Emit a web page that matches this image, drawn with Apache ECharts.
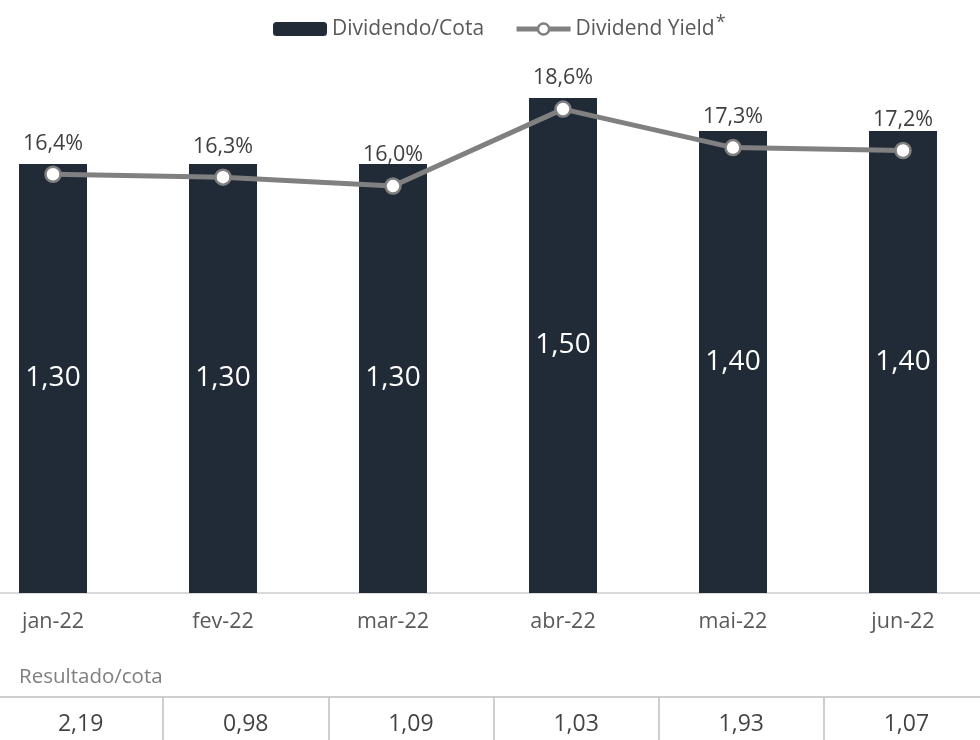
<!DOCTYPE html>
<html>
<head>
<meta charset="utf-8">
<script src="https://cdn.jsdelivr.net/npm/echarts@6/dist/echarts.min.js"></script>
<style>
html,body{margin:0;padding:0;background:#fff;}
#chart{width:980px;height:740px;}
</style>
</head>
<body>
<div id="chart"></div>
<script>
const categories = ['jan-22','fev-22','mar-22','abr-22','mai-22','jun-22'];
const dividendoCota = [1.30, 1.30, 1.30, 1.50, 1.40, 1.40];
const dividendYield = [16.4, 16.3, 16.0, 18.6, 17.3, 17.2];
const resultadoCota = [2.19, 0.98, 1.09, 1.03, 1.93, 1.07];

const FONT = 'Open Sans';
const fmt = (v, d) => v.toFixed(d).replace('.', ',');

const chart = echarts.init(document.getElementById('chart'));
chart.setOption({
  animation: false,
  backgroundColor: '#ffffff',
  textStyle: { fontFamily: FONT },
  title: {
    text: 'Resultado/cota',
    left: 14, top: 662,
    textStyle: { fontFamily: FONT, fontSize: 20.5, fontWeight: 'normal', color: '#7f7f7f' }
  },
  legend: {
    left: 268, top: 9,
    itemGap: 30,
    itemWidth: 54, itemHeight: 14,
    textStyle: {
      fontFamily: FONT, fontSize: 21, color: '#595959',
      rich: {
        a: { fontFamily: FONT, fontSize: 21, color: '#595959' },
        s: { fontFamily: FONT, fontSize: 18, color: '#595959', padding: [0, 0, 12, 1] }
      }
    },
    formatter: name => name === 'Dividend Yield' ? '{a|Dividend Yield}{s|*}' : name,
    data: [
      { name: 'Dividendo/Cota' },
      { name: 'Dividend Yield', lineStyle: { width: 5, color: '#808080' },
        itemStyle: { color: '#ffffff', borderColor: '#808080', borderWidth: 2.5 } }
    ]
  },
  grid: [
    { left: -32, right: -8, top: 65, height: 528, outerBoundsMode: 'none' },
    { left: -2, right: -9, top: 697, height: 50, outerBoundsMode: 'none' }
  ],
  xAxis: [
    {
      type: 'category', gridIndex: 0, data: categories,
      axisLine: { show: true, lineStyle: { color: '#d9d9d9', width: 2 } },
      axisTick: { show: false },
      axisLabel: { fontFamily: FONT, fontSize: 21.5, color: '#595959', margin: 18 }
    },
    {
      type: 'category', gridIndex: 1, data: categories, position: 'top',
      axisLine: { show: true, onZero: false, lineStyle: { color: '#bfbfbf', width: 1.5 } },
      axisTick: { show: false },
      axisLabel: { show: false },
      splitLine: { show: true, lineStyle: { color: '#bfbfbf', width: 1.5 } }
    }
  ],
  yAxis: [
    { type: 'value', gridIndex: 0, min: 0, max: 1.6, show: false, splitLine: { show: false } },
    { type: 'value', gridIndex: 0, min: 2.25, max: 20.09, show: false, splitLine: { show: false } },
    { type: 'value', gridIndex: 1, min: 0, max: 1, show: false, splitLine: { show: false } }
  ],
  series: [
    {
      name: 'Dividendo/Cota', type: 'bar',
      xAxisIndex: 0, yAxisIndex: 0,
      data: dividendoCota,
      barWidth: 68,
      itemStyle: { color: '#212b37' },
      label: {
        show: true, position: 'inside',
        fontFamily: FONT, fontSize: 28, color: '#ffffff',
        formatter: p => fmt(p.value, 2)
      },
      z: 2
    },
    {
      name: 'Dividend Yield', type: 'line',
      xAxisIndex: 0, yAxisIndex: 1,
      data: dividendYield,
      lineStyle: { color: '#808080', width: 5 },
      itemStyle: { color: '#ffffff', borderColor: '#808080', borderWidth: 2.5 },
      symbol: 'circle', symbolSize: 15,
      label: {
        show: true, position: 'top', distance: 11,
        fontFamily: FONT, fontSize: 21.5, color: '#404040',
        formatter: p => fmt(p.value, 1) + '%'
      },
      z: 5
    },
    {
      name: 'Resultado', type: 'scatter',
      xAxisIndex: 1, yAxisIndex: 2,
      data: resultadoCota.map(() => 0.5),
      symbolSize: 0,
      silent: true,
      label: {
        show: true, position: 'inside', offset: [0, 2],
        fontFamily: FONT, fontSize: 23, color: '#111111',
        formatter: p => fmt(resultadoCota[p.dataIndex], 2)
      }
    }
  ]
});
</script>
</body>
</html>
